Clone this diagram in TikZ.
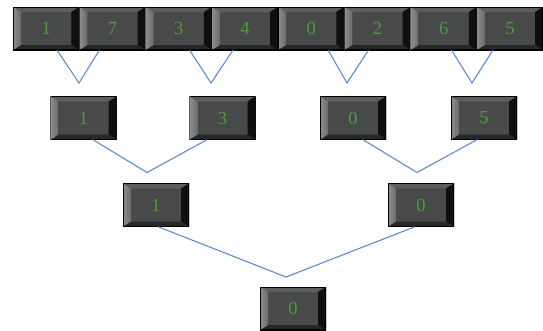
\documentclass[tikz,border=0pt]{standalone}
\usepackage{fontspec}
\setmainfont{Liberation Serif}
\usetikzlibrary{calc}
\definecolor{keyface}{HTML}{474A48}
\definecolor{keytop}{HTML}{5C5D5C}
\definecolor{keyright}{HTML}{0E0F0E}
\definecolor{keybottom}{HTML}{262726}
\definecolor{keyhilite}{HTML}{E2E2E2}
\definecolor{keyedge}{HTML}{8E8E8E}
\definecolor{keyinner}{HTML}{6A6A6A}
\definecolor{digit}{HTML}{4C9E3C}
\definecolor{link}{HTML}{5A8ED0}
\tikzset{
  key/.style={
    minimum width=66pt, minimum height=43pt, inner sep=0pt,
    fill=keyface, text=digit, font=\fontsize{18.5}{20}\selectfont,
    path picture={
      % top bevel
      \fill[keytop] (path picture bounding box.north west)
        -- (path picture bounding box.north east)
        -- ([shift={(-8pt,-5pt)}]path picture bounding box.north east)
        -- ([shift={(8pt,-5pt)}]path picture bounding box.north west) -- cycle;
      % right bevel
      \fill[keyright] (path picture bounding box.north east)
        -- (path picture bounding box.south east)
        -- ([shift={(-8pt,5pt)}]path picture bounding box.south east)
        -- ([shift={(-8pt,-5pt)}]path picture bounding box.north east) -- cycle;
      % bottom bevel
      \fill[keybottom] (path picture bounding box.south west)
        -- (path picture bounding box.south east)
        -- ([shift={(-8pt,5pt)}]path picture bounding box.south east)
        -- ([shift={(8pt,5pt)}]path picture bounding box.south west) -- cycle;
      % left bevel, a silver highlight
      \shade[left color=keyedge, middle color=keyhilite, right color=keyinner]
        (path picture bounding box.north west)
        -- ([shift={(8pt,-5pt)}]path picture bounding box.north west)
        -- ([shift={(8pt,5pt)}]path picture bounding box.south west)
        -- (path picture bounding box.south west) -- cycle;
      % border of the key
      \draw[black, line width=1.2pt] (path picture bounding box.south west)
        rectangle (path picture bounding box.north east);
    }},
  link/.style={draw=link, line width=1.1pt}
}
\begin{document}
\begin{tikzpicture}[x=1pt, y=-1pt]
  \useasboundingbox (0,0) rectangle (543,330);
  % top row of keys
  \foreach \v [count=\i] in {1,7,3,4,0,2,6,5}
    \node[key, minimum width=66.25pt] (t\i) at ({13+66.25*(\i-0.5)},28.5) {\v};
  % second row
  \node[key] (m1) at (83.5,118) {1};
  \node[key] (m2) at (222.5,118) {3};
  \node[key] (m3) at (353,118) {0};
  \node[key] (m4) at (484,118) {5};
  % third row
  \node[key] (n1) at (156,205) {1};
  \node[key] (n2) at (421,205) {0};
  % root
  \node[key] (r) at (293,308.5) {0};

  % meeting points of the links
  \coordinate (v1) at (79,83);
  \coordinate (v2) at (211,83);
  \coordinate (v3) at (347,83);
  \coordinate (v4) at (472,83);
  \coordinate (w1) at (147,172.5);
  \coordinate (w2) at (417,172.5);
  \coordinate (z) at (286,277);

  \draw[link] ([xshift=11pt]t1.south) -- (v1) -- ([xshift=-13pt]t2.south);
  \draw[link] ([xshift=11pt]t3.south) -- (v2) -- ([xshift=-12pt]t4.south);
  \draw[link] ([xshift=17pt]t5.south) -- (v3) -- ([xshift=-9pt]t6.south);
  \draw[link] ([xshift=8pt]t7.south) -- (v4) -- ([xshift=-17pt]t8.south);
  \draw[link] ([xshift=9.5pt]m1.south) -- (w1) -- ([xshift=-15.5pt]m2.south);
  \draw[link] ([xshift=10pt]m3.south) -- (w2) -- ([xshift=-7pt]m4.south);
  \draw[link] ([xshift=2pt]n1.south) -- (z) -- ([xshift=-6pt]n2.south);
\end{tikzpicture}
\end{document}
